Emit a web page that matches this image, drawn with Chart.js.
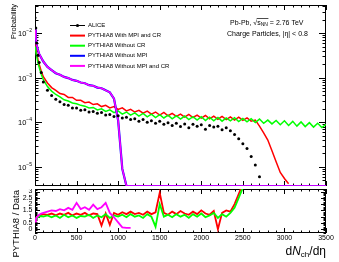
<!DOCTYPE html>
<html>
<head>
<meta charset="utf-8">
<script src="https://cdn.jsdelivr.net/npm/chart.js@4.4.0/dist/chart.umd.min.js"></script>
<style>
  html, body { margin: 0; padding: 0; background: #fff; }
  #wrap { position: relative; width: 339px; height: 262px; overflow: hidden; }
  #topPanel { position: absolute; left: 0; top: 0; }
  #ratioPanel { position: absolute; left: 0; top: 189px; }
</style>
</head>
<body>
<div id="wrap">
  <canvas id="topPanel" width="339" height="190"></canvas>
  <canvas id="ratioPanel" width="339" height="73"></canvas>
</div>
<script>
// ===== DATA =====

// dNch/deta bin positions
const dndeta = [0, 10, 20, 35, 50, 75, 100, 150, 200, 250,
  300, 350, 400, 450, 500, 550, 600, 650, 700, 750,
  800, 850, 900, 950, 1000, 1050, 1100, 1150, 1200, 1250,
  1300, 1350, 1400, 1450, 1500, 1550, 1600, 1650, 1700, 1750,
  1800, 1850, 1900, 1950, 2000, 2050, 2100, 2150, 2200, 2250,
  2300, 2350, 2400, 2450, 2500, 2550, 2600, 2650, 2700, 2750,
  2800, 2850, 2900, 2950, 3000, 3050, 3100, 3150, 3200, 3250,
  3300, 3350, 3400, 3450, 3500];

// Probability - ALICE data
const alice = [2.2e-2, 1.3e-2, 6.0e-3, 3.2e-3, 2.2e-3, 1.3e-3, 8.0e-4, 5.2e-4, 4.0e-4, 3.3e-4,
  2.9e-4, 2.5e-4, 2.4e-4, 2.1e-4, 2.1e-4, 1.85e-4, 1.9e-4, 1.7e-4, 1.75e-4, 1.6e-4,
  1.65e-4, 1.45e-4, 1.5e-4, 1.35e-4, 1.4e-4, 1.25e-4, 1.3e-4, 1.15e-4, 1.2e-4, 1.05e-4,
  1.15e-4, 1.0e-4, 1.08e-4, 9.5e-5, 1.05e-4, 9.0e-5, 9.8e-5, 8.5e-5, 9.5e-5, 8.0e-5,
  9.2e-5, 7.5e-5, 9.0e-5, 8.2e-5, 8.8e-5, 7.0e-5, 8.5e-5, 7.8e-5, 8.2e-5, 6.8e-5,
  7.5e-5, 6.5e-5, 5.3e-5, 4.3e-5, 3.3e-5, 2.6e-5, 1.7e-5, 1.1e-5, 6.0e-6, null,
  null, null, null, null, null, null, null, null, null, null,
  null, null, null, null, null];

// Probability - PYTHIA8 With MPI and CR
const mpiCR = [6.0e-3, 4.6e-3, 3.5e-3, 2.6e-3, 2.0e-3, 1.4e-3, 1.05e-3, 7.6e-4, 6.0e-4, 5.2e-4,
  4.4e-4, 4.2e-4, 3.6e-4, 3.6e-4, 3.1e-4, 3.1e-4, 2.75e-4, 2.85e-4, 2.5e-4, 2.6e-4,
  2.25e-4, 2.4e-4, 2.1e-4, 2.25e-4, 1.95e-4, 2.1e-4, 1.8e-4, 1.95e-4, 1.7e-4, 1.85e-4,
  1.6e-4, 1.78e-4, 1.52e-4, 1.7e-4, 1.45e-4, 1.66e-4, 1.4e-4, 1.58e-4, 1.36e-4, 1.52e-4,
  1.3e-4, 1.5e-4, 1.28e-4, 1.45e-4, 1.24e-4, 1.42e-4, 1.2e-4, 1.38e-4, 1.17e-4, 1.35e-4,
  1.15e-4, 1.32e-4, 1.12e-4, 1.3e-4, 1.1e-4, 1.25e-4, 1.06e-4, 1.12e-4, 8.2e-5, 5.8e-5,
  4.0e-5, 2.3e-5, 1.3e-5, 7.5e-6, 5.5e-6, 4.2e-6, null, null, null, null,
  null, null, null, null, null];

// Probability - PYTHIA8 Without CR
const noCR = [5.0e-3, 3.9e-3, 3.0e-3, 2.2e-3, 1.7e-3, 1.2e-3, 9.0e-4, 6.3e-4, 5.0e-4, 4.2e-4,
  3.7e-4, 3.2e-4, 3.0e-4, 2.7e-4, 2.6e-4, 2.4e-4, 2.3e-4, 2.1e-4, 2.15e-4, 1.9e-4,
  2.0e-4, 1.75e-4, 1.9e-4, 1.65e-4, 1.8e-4, 1.52e-4, 1.7e-4, 1.45e-4, 1.62e-4, 1.38e-4,
  1.58e-4, 1.33e-4, 1.52e-4, 1.28e-4, 1.48e-4, 1.25e-4, 1.44e-4, 1.2e-4, 1.4e-4, 1.18e-4,
  1.38e-4, 1.15e-4, 1.34e-4, 1.12e-4, 1.33e-4, 1.1e-4, 1.3e-4, 1.08e-4, 1.28e-4, 1.06e-4,
  1.25e-4, 1.08e-4, 1.27e-4, 1.04e-4, 1.22e-4, 1.02e-4, 1.2e-4, 9.9e-5, 1.18e-4, 9.5e-5,
  1.12e-4, 9.2e-5, 1.1e-4, 8.8e-5, 1.08e-4, 8.5e-5, 1.05e-4, 8.2e-5, 1.02e-4, 8.0e-5,
  9.8e-5, 7.8e-5, 9.5e-5, 7.6e-5, 9.0e-5];

// Probability - PYTHIA8 Without MPI and CR (empty bins are 0)
const noMPInoCR = [1.2e-2, 8.0e-3, 5.5e-3, 4.2e-3, 3.4e-3, 2.8e-3, 2.3e-3, 1.75e-3, 1.48e-3, 1.26e-3,
  1.16e-3, 1.04e-3, 9.8e-4, 8.9e-4, 8.5e-4, 7.8e-4, 7.5e-4, 6.8e-4, 6.6e-4, 6.0e-4,
  5.8e-4, 5.2e-4, 4.7e-4, 3.4e-4, 1.1e-4, 9.0e-6, 0, 0, 0, 0,
  0, 0, 0, 0, 0, 0, 0, 0, 0, 0,
  0, 0, 0, 0, 0, 0, 0, 0, 0, 0,
  0, 0, 0, 0, 0, 0, 0, 0, 0, 0,
  0, 0, 0, 0, 0, 0, 0, 0, 0, 0,
  0, 0, 0, 0, 0];

// Probability - PYTHIA8 Without MPI (hidden under the magenta curve in the picture)
const noMPI = noMPInoCR;

// PYTHIA8 / Data ratios
const ratioMPICR = [0.7, 0.85, 0.95, 1.05, 1.1, 1.15, 1.2, 1.15, 1.25, 1.1,
  1.25, 1.15, 1.3, 1.1, 1.25, 1.15, 1.3, 1.1, 1.25, 1.2,
  0.3, 1.25, 0.35, 1.3, 1.15, 1.35, 1.2, 1.4, 1.2, 1.3,
  1.15, 1.4, 1.2, 1.35, 2.9, 1.3, 1.15, 1.4, 1.2, 1.45,
  1.25, 1.15, 1.4, 1.2, 1.5, 1.25, 1.15, 1.45, 0.0, 1.3,
  1.5, 1.4, 2.0, 2.8, 3.6, 4.5, 6.0, 8.0, 10.0, null,
  null, null, null, null, null, null, null, null, null, null,
  null, null, null, null, null];

const ratioNoCR = [0.8, 0.85, 0.9, 0.95, 1.0, 1.05, 1.0, 1.1, 0.95, 1.1,
  0.9, 1.15, 0.95, 1.1, 0.9, 1.05, 1.0, 1.15, 0.9, 1.1,
  0.95, 1.2, 0.9, 1.1, 1.0, 1.15, 0.95, 1.2, 1.0, 1.1,
  0.9, 1.2, 1.0, 0.2, 2.0, 1.0, 1.15, 0.95, 1.2, 1.0,
  1.15, 0.9, 1.2, 1.0, 1.25, 0.95, 1.1, 1.3, 0.9, 1.2,
  1.0, 1.3, 1.7, 2.5, 3.3, 4.2, 5.5, 7.0, 9.0, null,
  null, null, null, null, null, null, null, null, null, null,
  null, null, null, null, null];

const ratioNoMPInoCR = [0.6, 0.8, 0.95, 1.05, 1.15, 1.25, 1.3, 1.4, 1.5, 1.45,
  1.6, 1.5, 1.7, 1.55, 2.1, 1.6, 1.75, 1.55, 1.95, 1.6,
  1.75, 2.1, 1.3, 0.95, 0.55, 0.15, 0.1, 0.1, null, null,
  null, null, null, null, null, null, null, null, null, null,
  null, null, null, null, null, null, null, null, null, null,
  null, null, null, null, null, null, null, null, null, null,
  null, null, null, null, null, null, null, null, null, null,
  null, null, null, null, null];

// Axis ticks and labels
const xTickValues = [0, 500, 1000, 1500, 2000, 2500, 3000, 3500];
const xTickLabels = ['0', '500', '1000', '1500', '2000', '2500', '3000', '3500'];
const logTickValues = [1e-5, 1e-4, 1e-3, 1e-2];
const logTickExponents = ['\u22125', '\u22124', '\u22123', '\u22122'];
const ratioTickValues = [0, 0.5, 1, 1.5, 2, 2.5, 3];
const ratioTickLabels = ['0', '0.5', '1', '1.5', '2', '2.5', '3'];

const legendLabels = ['ALICE', 'PYTHIA8 With MPI and CR', 'PYTHIA8 Without CR',
  'PYTHIA8 Without MPI', 'PYTHIA8 Without MPI and CR'];

// ===== STYLE =====
const FONT = '"Liberation Sans", Arial, sans-serif';
const COLORS = {
  alice: '#000000',
  mpiCR: '#ff0000',
  noCR: '#00ff00',
  noMPI: '#0000ff',
  noMPInoCR: '#ff00ff'
};
const Y_MIN = 3.73e-6;
const Y_MAX = 0.0426;

function pts(values) {
  return dndeta.map((x, i) => ({ x: x, y: values[i] }));
}

// like ROOT, empty bins of a log plot sit on the bottom of the frame
function logPts(values) {
  return dndeta.map((x, i) => ({ x: x, y: values[i] === 0 ? Y_MIN : values[i] }));
}

function strokeLine(ctx, x1, y1, x2, y2) {
  ctx.beginPath();
  ctx.moveTo(x1, y1);
  ctx.lineTo(x2, y2);
  ctx.stroke();
}

// Frame plus x ticks on top and bottom edges (ROOT style, inside)
function drawFrameAndXTicks(chart) {
  const { ctx, chartArea: a } = chart;
  const xs = chart.scales.x;
  ctx.strokeStyle = '#000';
  ctx.lineWidth = 1;
  ctx.strokeRect(a.left + 0.5, a.top + 0.5, a.width - 1, a.height - 1);
  for (let v = 0; v <= 3500; v += 100) {
    const px = Math.round(xs.getPixelForValue(v)) + 0.5;
    const len = v % 500 === 0 ? 5 : 2.5;
    strokeLine(ctx, px, a.top, px, a.top + len);
    strokeLine(ctx, px, a.bottom, px, a.bottom - len);
  }
}

// Top panel decorations
const topDecor = {
  id: 'topDecor',
  beforeDatasetsDraw(chart) {
    const { ctx, chartArea: a } = chart;
    const ys = chart.scales.y;
    ctx.save();
    drawFrameAndXTicks(chart);
    // log ticks on both sides
    for (let e = -6; e <= -1; e++) {
      for (let k = 1; k <= 9; k++) {
        const v = k * Math.pow(10, e);
        if (v < ys.min || v > ys.max) continue;
        const py = Math.round(ys.getPixelForValue(v)) + 0.5;
        const len = k === 1 ? 7 : 3.5;
        strokeLine(ctx, a.left, py, a.left + len, py);
        strokeLine(ctx, a.right, py, a.right - len, py);
      }
    }
    ctx.restore();
  },
  afterDraw(chart) {
    const { ctx } = chart;
    const ys = chart.scales.y;
    ctx.save();

    // log labels: 10 with superscript exponent
    ctx.fillStyle = '#000';
    ctx.textBaseline = 'middle';
    ctx.textAlign = 'right';
    logTickValues.forEach((v, i) => {
      const py = ys.getPixelForValue(v);
      ctx.font = '5px ' + FONT;
      const wSup = ctx.measureText(logTickExponents[i]).width;
      ctx.fillText(logTickExponents[i], 32, py - 2.5);
      ctx.font = '7.5px ' + FONT;
      ctx.fillText('10', 32 - wSup, py + 1);
    });

    // y title
    ctx.save();
    ctx.translate(14, 4);
    ctx.rotate(-Math.PI / 2);
    ctx.font = '7.5px ' + FONT;
    ctx.textAlign = 'right';
    ctx.textBaseline = 'middle';
    ctx.fillText('Probability', 0, 0);
    ctx.restore();

    // legend
    const legColors = [COLORS.alice, COLORS.mpiCR, COLORS.noCR, COLORS.noMPI, COLORS.noMPInoCR];
    ctx.font = '6px ' + FONT;
    ctx.textAlign = 'left';
    legendLabels.forEach((label, i) => {
      const y = 25.5 + i * 10.1;
      ctx.strokeStyle = legColors[i];
      ctx.lineWidth = i === 0 ? 1 : 2;
      strokeLine(ctx, 70, y, 85, y);
      if (i === 0) {
        ctx.fillStyle = '#000';
        ctx.beginPath();
        ctx.arc(77.5, y, 1.6, 0, Math.PI * 2);
        ctx.fill();
      }
      ctx.fillStyle = '#000';
      ctx.fillText(label, 88, y);
    });

    // collision text
    ctx.font = '7px ' + FONT;
    let x = 230;
    const y1 = 23;
    ctx.fillText('Pb-Pb, ', x, y1);
    x += ctx.measureText('Pb-Pb, ').width;
    ctx.fillText('\u221A', x, y1);
    x += ctx.measureText('\u221A').width;
    const xBar = x;
    ctx.fillText('s', x, y1);
    x += ctx.measureText('s').width;
    ctx.font = '5px ' + FONT;
    ctx.fillText('NN', x, y1 + 2);
    x += ctx.measureText('NN').width;
    ctx.lineWidth = 0.7;
    ctx.strokeStyle = '#000';
    strokeLine(ctx, xBar - 0.5, y1 - 4.5, x + 0.5, y1 - 4.5);
    ctx.font = '7px ' + FONT;
    ctx.fillText(' = 2.76 TeV', x, y1);
    ctx.fillText('Charge Particles, |\u03B7| < 0.8', 227, 34);

    ctx.restore();
  }
};

// Ratio panel decorations
const ratioDecor = {
  id: 'ratioDecor',
  beforeDatasetsDraw(chart) {
    const { ctx, chartArea: a } = chart;
    const ys = chart.scales.y;
    ctx.save();
    drawFrameAndXTicks(chart);
    for (let i = -3; i <= 32; i++) {
      const v = i / 10;
      const py = Math.round(ys.getPixelForValue(v)) + 0.5;
      const len = i % 5 === 0 ? 5 : 2.5;
      strokeLine(ctx, a.left, py, a.left + len, py);
      strokeLine(ctx, a.right, py, a.right - len, py);
    }
    ctx.restore();
  },
  afterDraw(chart) {
    const { ctx, chartArea: a } = chart;
    const xs = chart.scales.x;
    const ys = chart.scales.y;
    ctx.save();

    ctx.fillStyle = '#000';
    ctx.font = '7px ' + FONT;
    ctx.textBaseline = 'middle';
    ctx.textAlign = 'right';
    ratioTickValues.forEach((v, i) => {
      ctx.fillText(ratioTickLabels[i], 32.5, ys.getPixelForValue(v));
    });

    ctx.textAlign = 'center';
    xTickValues.forEach((v, i) => {
      ctx.fillText(xTickLabels[i], xs.getPixelForValue(v), 49);
    });

    // x title: dN_ch/deta, right aligned to frame end
    const yT = 63;
    const parts = [
      { t: 'd', f: '12px ' + FONT, dy: 0 },
      { t: 'N', f: 'italic 12px ' + FONT, dy: 0 },
      { t: 'ch', f: '8px ' + FONT, dy: 3 },
      { t: '/d\u03B7', f: '12px ' + FONT, dy: 0 }
    ];
    let total = 0;
    parts.forEach(p => { ctx.font = p.f; p.w = ctx.measureText(p.t).width; total += p.w; });
    let x = a.right - total;
    ctx.textAlign = 'left';
    parts.forEach(p => {
      ctx.font = p.f;
      ctx.fillText(p.t, x, yT + p.dy);
      x += p.w;
    });

    // y title
    ctx.save();
    ctx.translate(16, 1);
    ctx.rotate(-Math.PI / 2);
    ctx.font = '9.5px ' + FONT;
    ctx.textAlign = 'right';
    ctx.textBaseline = 'middle';
    ctx.fillText('PYTHIA8 / Data', 0, 0);
    ctx.restore();

    ctx.restore();
  }
};

// ===== CHARTS =====
function createTopChart() {
  const ctx = document.getElementById('topPanel');
  new Chart(ctx, {
    type: 'line',
    data: {
      datasets: [
        { label: 'ALICE', data: logPts(alice), showLine: false, pointRadius: 1.5,
          pointBackgroundColor: COLORS.alice, pointBorderWidth: 0, borderColor: COLORS.alice },
        { label: 'PYTHIA8 Without MPI and CR', data: logPts(noMPInoCR), borderColor: COLORS.noMPInoCR, borderWidth: 1.5 },
        { label: 'PYTHIA8 Without MPI', data: logPts(noMPI), borderColor: COLORS.noMPI, borderWidth: 2.2 },
        { label: 'PYTHIA8 Without CR', data: logPts(noCR), borderColor: COLORS.noCR, borderWidth: 1.5 },
        { label: 'PYTHIA8 With MPI and CR', data: logPts(mpiCR), borderColor: COLORS.mpiCR, borderWidth: 1.5 }
      ]
    },
    options: {
      responsive: false,
      animation: false,
      layout: { padding: { left: 35, top: 5, right: 13, bottom: 1 } },
      elements: { point: { radius: 0 }, line: { tension: 0 } },
      scales: {
        x: { type: 'linear', min: 0, max: 3500, bounds: 'data', display: false },
        y: { type: 'logarithmic', min: Y_MIN, max: Y_MAX, bounds: 'data', display: false }
      },
      plugins: { legend: { display: false }, tooltip: { enabled: false } }
    },
    plugins: [topDecor]
  });
}

function createRatioChart() {
  const ctx = document.getElementById('ratioPanel');
  new Chart(ctx, {
    type: 'line',
    data: {
      datasets: [
        { label: 'Without MPI and CR', data: pts(ratioNoMPInoCR), borderColor: COLORS.noMPInoCR, borderWidth: 1.8 },
        { label: 'Without CR', data: pts(ratioNoCR), borderColor: COLORS.noCR, borderWidth: 1.8 },
        { label: 'With MPI and CR', data: pts(ratioMPICR), borderColor: COLORS.mpiCR, borderWidth: 1.8 }
      ]
    },
    options: {
      responsive: false,
      animation: false,
      layout: { padding: { left: 35, top: 0, right: 13, bottom: 29 } },
      elements: { point: { radius: 0 }, line: { tension: 0 } },
      scales: {
        x: { type: 'linear', min: 0, max: 3500, bounds: 'data', display: false },
        y: { type: 'linear', min: -0.3, max: 3.2, bounds: 'data', display: false }
      },
      plugins: { legend: { display: false }, tooltip: { enabled: false } }
    },
    plugins: [ratioDecor]
  });
}

createTopChart();
createRatioChart();
</script>
</body>
</html>
